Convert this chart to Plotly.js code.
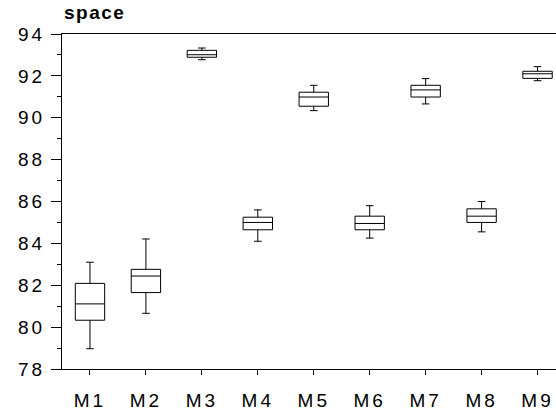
<!DOCTYPE html>
<html>
<head>
<meta charset="utf-8">
<script src="https://cdn.plot.ly/plotly-3.0.1.min.js"></script>
<style>
  html, body { margin: 0; padding: 0; background: #fff; }
  #chart { width: 556px; height: 414px; }
  .xtick text, .ytick text { letter-spacing: 3px; }
  .gtitle { letter-spacing: 1.5px; }
</style>
</head>
<body>
<div id="chart"></div>
<script>
const categories = ['M1', 'M2', 'M3', 'M4', 'M5', 'M6', 'M7', 'M8', 'M9'];
const lowerWhisker = [78.97, 80.66, 92.77, 84.10, 90.34, 84.25, 90.66, 84.55, 91.77];
const q1Values     = [80.33, 81.65, 92.89, 84.65, 90.55, 84.65, 90.99, 85.00, 91.88];
const medianValues = [81.11, 82.44, 93.01, 85.00, 90.99, 84.95, 91.33, 85.30, 92.10];
const q3Values     = [82.09, 82.76, 93.22, 85.25, 91.22, 85.30, 91.55, 85.65, 92.22];
const upperWhisker = [83.10, 84.21, 93.33, 85.60, 91.55, 85.80, 91.87, 86.00, 92.44];
const yTickValues  = [78, 80, 82, 84, 86, 88, 90, 92, 94];

const trace = {
  type: 'box',
  x: categories,
  q1: q1Values,
  median: medianValues,
  q3: q3Values,
  lowerfence: lowerWhisker,
  upperfence: upperWhisker,
  fillcolor: '#ffffff',
  line: { color: '#000000', width: 1 },
  whiskerwidth: 0.26,
  boxpoints: false,
  hoverinfo: 'skip',
  showlegend: false
};

const layout = {
  width: 556,
  height: 414,
  margin: { l: 62, r: 0, t: 34, b: 45 },
  paper_bgcolor: '#ffffff',
  plot_bgcolor: '#ffffff',
  boxgap: 0.25,
  font: { family: 'Liberation Sans, Arial, sans-serif', color: '#000000' },
  title: {
    text: '<b>space</b>',
    font: { size: 19, family: 'Liberation Sans, Arial, sans-serif', color: '#000000' },
    xref: 'container', x: 64 / 556, xanchor: 'left',
    yref: 'container', y: 1 - 12 / 414, yanchor: 'middle'
  },
  xaxis: {
    type: 'category',
    range: [-0.5, 8.33],
    showgrid: false,
    zeroline: false,
    showline: true,
    linecolor: '#000000',
    linewidth: 1,
    mirror: true,
    ticks: 'outside',
    ticklen: 5,
    tickcolor: '#000000',
    ticklabelstandoff: 9,
    tickfont: { size: 19, color: '#000000' },
    fixedrange: true
  },
  yaxis: {
    range: [78, 94],
    tickvals: yTickValues,
    showgrid: false,
    zeroline: false,
    showline: true,
    linecolor: '#000000',
    linewidth: 1,
    ticks: 'outside',
    ticklen: 10,
    tickcolor: '#000000',
    ticklabelstandoff: 2,
    tickfont: { size: 19, color: '#000000' },
    minor: { dtick: 1, ticks: 'outside', ticklen: 4, tickcolor: '#000000', showgrid: false },
    fixedrange: true
  }
};

Plotly.newPlot('chart', [trace], layout, { displayModeBar: false, staticPlot: true });
</script>
</body>
</html>
